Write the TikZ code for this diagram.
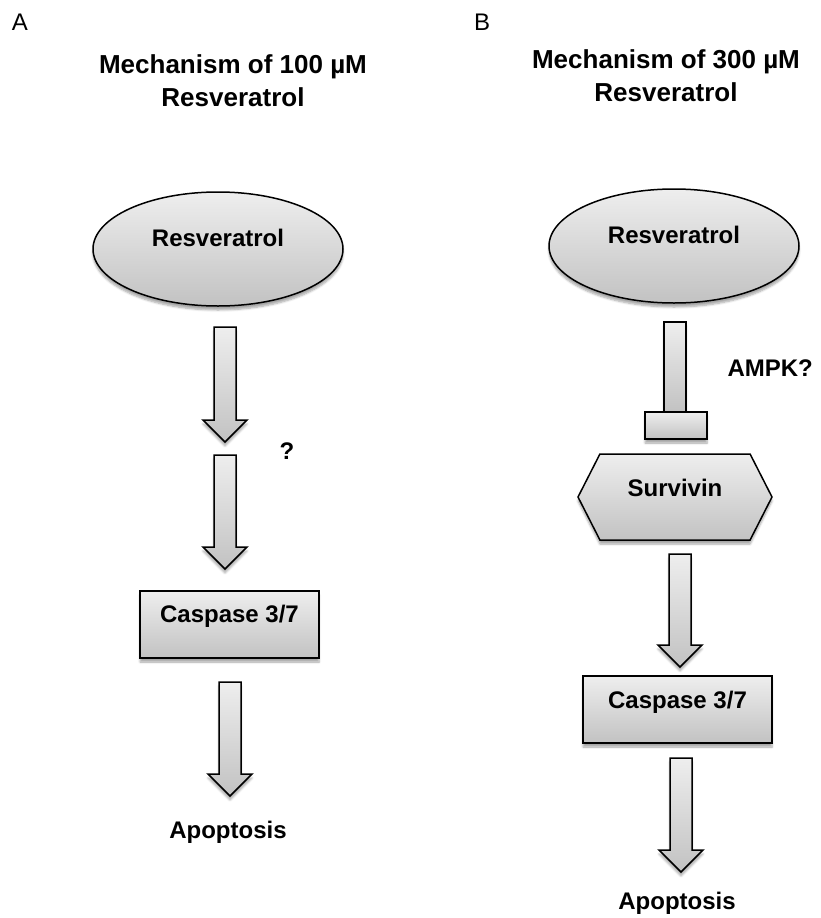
\documentclass[tikz,border=0pt]{standalone}
\usepackage{fontspec}
\setmainfont{Liberation Sans}
\usetikzlibrary{calc,shadows.blur,shapes.geometric,shapes.symbols}
\definecolor{gtop}{RGB}{238,238,238}
\definecolor{gbot}{RGB}{194,194,194}
\tikzset{
  gfill/.style={draw=black, line width=1.5pt, top color=gtop, bottom color=gbot,
    blur shadow={shadow xshift=0pt, shadow yshift=-4pt, shadow blur steps=6, shadow opacity=35}},
  lbl/.style={font=\fontsize{24}{28}\selectfont\bfseries},
  ttl/.style={font=\fontsize{26}{33}\selectfont\bfseries, align=center},
  panel/.style={font=\fontsize{24}{28}\selectfont},
  ellnode/.style={ellipse, gfill, minimum width=250pt, minimum height=114pt, inner sep=0pt},
  boxnode/.style={rectangle, gfill, minimum height=67pt, inner sep=0pt},
  hexnode/.style={signal, signal to=east and west, signal pointer angle=126, gfill,
    minimum width=194pt, minimum height=86pt, inner sep=0pt},
}
\newcommand\blockarrow[2]{%
  \path[gfill] let \p1=(#1), \p2=(#2) in
    (\x1-11pt,\y1) -- (\x1+11pt,\y1) -- (\x1+11pt,\y2+22pt) -- (\x1+22pt,\y2+22pt)
    -- (\x2,\y2) -- (\x1-22pt,\y2+22pt) -- (\x1-11pt,\y2+22pt) -- cycle;}
\begin{document}
\begin{tikzpicture}[x=1pt,y=-1pt]
\useasboundingbox (0,0) rectangle (820,918);

% ---------- Panel A ----------
\node[panel] (labA) at (20,22) {A};
\node[ttl] (titA) at (233,81) {Mechanism of 100 µM\\Resveratrol};
\node[ellnode, label={[lbl, yshift=11pt]center:Resveratrol}] (resA) at (218,249) {};
\node[boxnode, minimum width=179pt, label={[lbl, yshift=8.5pt]center:Caspase 3/7}] (casA) at (229.5,624.5) {};
\node[lbl] (apoA) at (228,832) {Apoptosis};
\node[lbl] (qA) at (287,451) {?};

\coordinate (a1s) at (225,327);
\coordinate (a1t) at (225,442);
\coordinate (a2s) at (225,455);
\coordinate (a2t) at (225,569);
\coordinate (a3s) at (230,682);
\coordinate (a3t) at (230,796);
\blockarrow{a1s}{a1t}
\blockarrow{a2s}{a2t}
\blockarrow{a3s}{a3t}

% ---------- Panel B ----------
\node[panel] (labB) at (482,22) {B};
\node[ttl] (titB) at (666,76) {Mechanism of 300 µM\\Resveratrol};
\node[ellnode, label={[lbl, yshift=11pt]center:Resveratrol}] (resB) at (674,246) {};
\node[hexnode, label={[lbl, yshift=9pt]center:Survivin}] (survB) at (675,497) {};
\node[boxnode, minimum width=189pt, label={[lbl, yshift=7.5pt]center:Caspase 3/7}] (casB) at (677.5,709.5) {};
\node[lbl] (apoB) at (677,903) {Apoptosis};
\node[lbl, anchor=west] (ampk) at (724,368) {AMPK?};

% inhibition T-bar
\path[gfill] (664,322) rectangle (686,412);
\path[gfill] (645,412) rectangle (707,439);

\coordinate (b1s) at (680,554);
\coordinate (b1t) at (680,667);
\coordinate (b2s) at (681,758);
\coordinate (b2t) at (681,872);
\blockarrow{b1s}{b1t}
\blockarrow{b2s}{b2t}
\end{tikzpicture}
\end{document}
